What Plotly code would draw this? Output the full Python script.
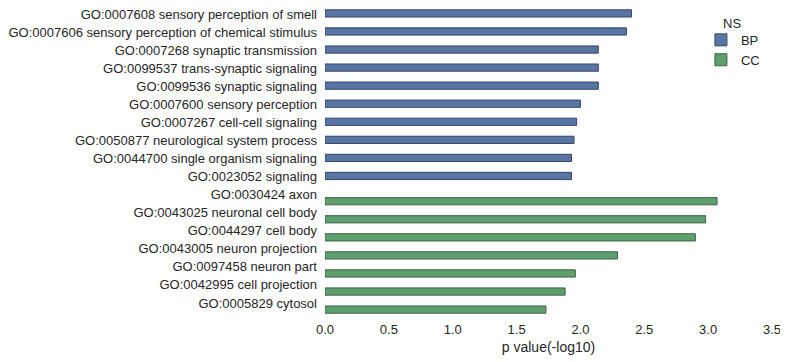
import plotly.graph_objects as go

bp_terms = [
    "GO:0007608 sensory perception of smell",
    "GO:0007606 sensory perception of chemical stimulus",
    "GO:0007268 synaptic transmission",
    "GO:0099537 trans-synaptic signaling",
    "GO:0099536 synaptic signaling",
    "GO:0007600 sensory perception",
    "GO:0007267 cell-cell signaling",
    "GO:0050877 neurological system process",
    "GO:0044700 single organism signaling",
    "GO:0023052 signaling",
]
bp_values = [2.40, 2.36, 2.14, 2.14, 2.14, 2.00, 1.97, 1.95, 1.93, 1.93]

cc_terms = [
    "GO:0030424 axon",
    "GO:0043025 neuronal cell body",
    "GO:0044297 cell body",
    "GO:0043005 neuron projection",
    "GO:0097458 neuron part",
    "GO:0042995 cell projection",
    "GO:0005829 cytosol",
]
cc_values = [3.07, 2.98, 2.90, 2.29, 1.96, 1.88, 1.73]

x_ticks = [0.0, 0.5, 1.0, 1.5, 2.0, 2.5, 3.0, 3.5]
all_terms = bp_terms + cc_terms

FONT = "Liberation Sans, Arial, sans-serif"

fig = go.Figure()
fig.add_trace(go.Bar(y=bp_terms, x=bp_values, orientation="h", name="BP",
                     width=0.4, offset=-0.4,
                     marker=dict(color="#5975A4", line=dict(color="#34466a", width=1))))
fig.add_trace(go.Bar(y=cc_terms, x=cc_values, orientation="h", name="CC",
                     width=0.4, offset=0.0,
                     marker=dict(color="#5F9E6E", line=dict(color="#3a6446", width=1))))

fig.update_layout(
    width=780, height=354,
    margin=dict(l=317, r=16, t=0, b=47),
    paper_bgcolor="white", plot_bgcolor="white",
    barmode="overlay",
    font=dict(family=FONT, size=13, color="#262626"),
    legend=dict(x=0.841, y=0.945, xanchor="left", yanchor="top",
                bgcolor="rgba(0,0,0,0)", font=dict(size=13), tracegroupgap=0),
    showlegend=True,
    annotations=[dict(text="NS", x=0.91, y=0.951, xref="paper", yref="paper",
                      xanchor="center", yanchor="middle", showarrow=False,
                      font=dict(size=13, color="#262626"))],
)
fig.update_xaxes(range=[0, 3.5], tickvals=x_ticks,
                 ticktext=[f"{v:.1f}" for v in x_ticks],
                 showgrid=False, zeroline=False, showline=False, automargin=False,
                 ticks="", ticklabelstandoff=5,
                 title=dict(text="p value(-log10)", font=dict(size=14), standoff=6),
                 tickfont=dict(size=13))
fig.update_yaxes(categoryorder="array", categoryarray=all_terms, range=[16.5, -0.5],
                 showgrid=False, zeroline=False, showline=False, ticks="", automargin=False,
                 ticklabelstandoff=7, ticklabelshift=3, tickfont=dict(size=13))

fig.write_html("out.html")
